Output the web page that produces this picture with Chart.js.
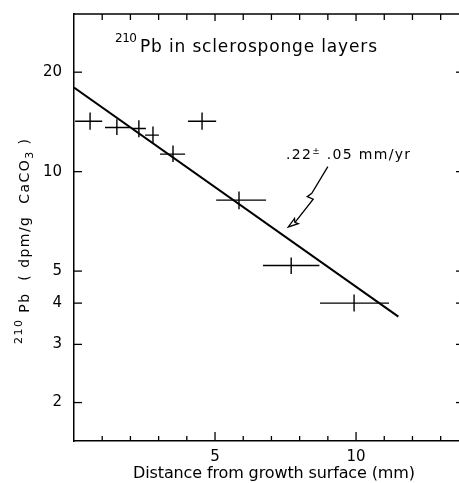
<!DOCTYPE html>
<html>
<head>
<meta charset="utf-8">
<script src="https://cdn.jsdelivr.net/npm/chart.js@4/dist/chart.umd.min.js"></script>
<style>
  html, body { margin: 0; padding: 0; background: #fff; }
  #wrap { width: 459px; height: 483px; position: relative; }
</style>
</head>
<body>
<div id="wrap"><canvas id="c" width="459" height="483"></canvas></div>
<script>
// ---- data ----
const distance = [0.57, 1.52, 2.30, 2.80, 3.51, 4.54, 5.85, 7.70, 9.93];      // mm
const distLow  = [0.04, 1.10, 2.06, 2.52, 3.05, 4.04, 5.04, 6.70, 8.72];
const distHigh = [1.00, 1.99, 2.55, 3.01, 3.94, 5.04, 6.81, 8.70, 11.17];
const activity = [14.2, 13.6, 13.5, 12.9, 11.3, 14.2, 8.2, 5.2, 4.0];          // dpm/g CaCO3
const actLow   = [13.4, 12.9, 12.7, 12.2, 10.7, 13.4, 7.7, 4.9, 3.77];
const actHigh  = [15.1, 14.4, 14.3, 13.7, 12.0, 15.1, 8.7, 5.5, 4.25];
const fitX = [0, 11.5];
const fitY = [17.97, 3.64];
const yTicks = [2, 3, 4, 5, 10, 20];
const xLabeled = [5, 10];
const xMinorTicks = [1,2,3,4,5,6,7,8,9,10,11,12,13];
const rateLabel = [".22", "\u00B1", " .05 mm/yr"];
const titleText = "Pb in sclerosponge layers";
const xTitle = "Distance from growth surface (mm)";

// build datasets
const hBars = [], vBars = [];
for (let i = 0; i < distance.length; i++) {
  hBars.push({x: distLow[i], y: activity[i]}, {x: distHigh[i], y: activity[i]}, {x: null, y: null});
  vBars.push({x: distance[i], y: actLow[i]}, {x: distance[i], y: actHigh[i]}, {x: null, y: null});
}
const fitPts = fitX.map((x, i) => ({x, y: fitY[i]}));

const FONT = "'DejaVu Sans', 'Liberation Sans', sans-serif";

function drawRuns(ctx, runs, x, y, target) {
  let natural = 0, chars = 0;
  runs.forEach(r => { ctx.font = r.size + "px " + FONT; natural += ctx.measureText(r.t).width; chars += r.t.length; });
  let ls = 0;
  const hasLS = ('letterSpacing' in ctx);
  if (target && hasLS && chars > 1) ls = (target - natural) / (chars - 1);
  let cx = x;
  runs.forEach(r => {
    ctx.font = r.size + "px " + FONT;
    if (hasLS) ctx.letterSpacing = ls + "px";
    ctx.fillText(r.t, cx, y + (r.dy || 0));
    cx += ctx.measureText(r.t).width;
    if (hasLS) ctx.letterSpacing = "0px";
  });
}

const decor = {
  id: 'decor',
  afterDraw(chart) {
    const ctx = chart.ctx, a = chart.chartArea;
    const xs = chart.scales.x, ys = chart.scales.y;
    ctx.save();
    ctx.strokeStyle = '#000';
    ctx.fillStyle = '#000';
    ctx.lineWidth = 1.5;
    ctx.beginPath(); ctx.moveTo(a.left, a.top); ctx.lineTo(a.right, a.top); ctx.stroke();
    ctx.lineWidth = 1.3;
    xMinorTicks.forEach(v => {
      const px = xs.getPixelForValue(v);
      const big = xLabeled.includes(v);
      ctx.beginPath(); ctx.moveTo(px, a.bottom); ctx.lineTo(px, a.bottom - (big ? 9 : 5)); ctx.stroke();
      ctx.beginPath(); ctx.moveTo(px, a.top); ctx.lineTo(px, a.top + (big ? 7 : 6)); ctx.stroke();
    });
    yTicks.forEach(v => {
      const py = ys.getPixelForValue(v);
      ctx.beginPath(); ctx.moveTo(a.left, py); ctx.lineTo(a.left + 8, py); ctx.stroke();
      ctx.beginPath(); ctx.moveTo(a.right, py); ctx.lineTo(a.right - 3, py); ctx.stroke();
    });

    ctx.textBaseline = 'alphabetic';
    ctx.textAlign = 'left';
    drawRuns(ctx, [{t: "210", size: 12, dy: -10}], 115, 52, 22);
    drawRuns(ctx, [{t: titleText, size: 17}], 140, 52, 237);

    drawRuns(ctx, [{t: xTitle, size: 16}], 133, 478, 282);

    ctx.save();
    ctx.translate(29, 344);
    ctx.rotate(-Math.PI / 2);
    drawRuns(ctx, [
      {t: "210", size: 11, dy: -7},
      {t: " Pb  ( dpm/g  CaCO", size: 14},
      {t: "3", size: 11, dy: 4},
      {t: " )", size: 14}
    ], 0, 0, 205);
    ctx.restore();

    drawRuns(ctx, [{t: rateLabel[0], size: 14}, {t: rateLabel[1], size: 9, dy: -5}, {t: rateLabel[2], size: 14}], 286, 159, 124);
    const P = (x, y) => [xs.getPixelForValue(x), ys.getPixelForValue(y)];
    const pts = [P(9.0, 10.35), P(8.43, 8.6), P(8.27, 8.4), P(8.48, 8.25), P(7.85, 7.05)];
    ctx.lineWidth = 1.3;
    ctx.beginPath();
    ctx.moveTo(pts[0][0], pts[0][1]);
    for (let i = 1; i < pts.length; i++) ctx.lineTo(pts[i][0], pts[i][1]);
    ctx.stroke();
    const tip = P(7.6, 6.8);
    const base = pts[pts.length - 1];
    const dx = tip[0] - base[0], dy = tip[1] - base[1];
    const L = Math.hypot(dx, dy), ux = dx / L, uy = dy / L;
    const hl = 10, hw = 3.2;
    const bx = tip[0] - ux * hl, by = tip[1] - uy * hl;
    ctx.beginPath();
    ctx.moveTo(tip[0], tip[1]);
    ctx.lineTo(bx - uy * hw, by + ux * hw);
    ctx.lineTo(bx + ux * 2, by + uy * 2);
    ctx.lineTo(bx + uy * hw, by - ux * hw);
    ctx.closePath();
    ctx.fillStyle = '#fff';
    ctx.fill();
    ctx.stroke();
    ctx.restore();
  }
};

new Chart(document.getElementById('c'), {
  type: 'scatter',
  data: {
    datasets: [
      { label: 'fit', data: fitPts, showLine: true, borderColor: '#000', borderWidth: 2, pointRadius: 0 },
      { label: 'xerr', data: hBars, showLine: true, spanGaps: false, borderColor: '#000', borderWidth: 1.4, pointRadius: 0 },
      { label: 'yerr', data: vBars, showLine: true, spanGaps: false, borderColor: '#000', borderWidth: 1.4, pointRadius: 0 }
    ]
  },
  options: {
    responsive: false,
    animation: false,
    events: [],
    layout: { padding: { left: 0, top: 14, right: 0, bottom: 0 } },
    plugins: { legend: { display: false }, tooltip: { enabled: false } },
    scales: {
      x: {
        type: 'linear', min: 0, max: 13.65,
        afterFit(s) { s.height = 42; s.paddingLeft = 0; s.paddingRight = 0; },
        afterBuildTicks(s) { s.ticks = xLabeled.map(v => ({value: v})); },
        grid: { display: true, drawOnChartArea: false, drawTicks: false, color: 'rgba(0,0,0,0)' },
        border: { display: true, color: '#000', width: 1.5 },
        ticks: { color: '#000', padding: 7, maxRotation: 0, font: { family: FONT, size: 15 }, callback: v => String(v) }
      },
      y: {
        type: 'logarithmic', min: 1.53, max: 30,
        afterFit(s) { s.width = 74; s.paddingTop = 0; s.paddingBottom = 0; },
        afterBuildTicks(s) { s.ticks = yTicks.map(v => ({value: v})); },
        grid: { display: true, drawOnChartArea: false, drawTicks: false, color: 'rgba(0,0,0,0)' },
        border: { display: true, color: '#000', width: 1.5 },
        ticks: { color: '#000', padding: 12, font: { family: FONT, size: 15 }, callback: v => String(v) }
      }
    }
  },
  plugins: [decor]
});
</script>
</body>
</html>
